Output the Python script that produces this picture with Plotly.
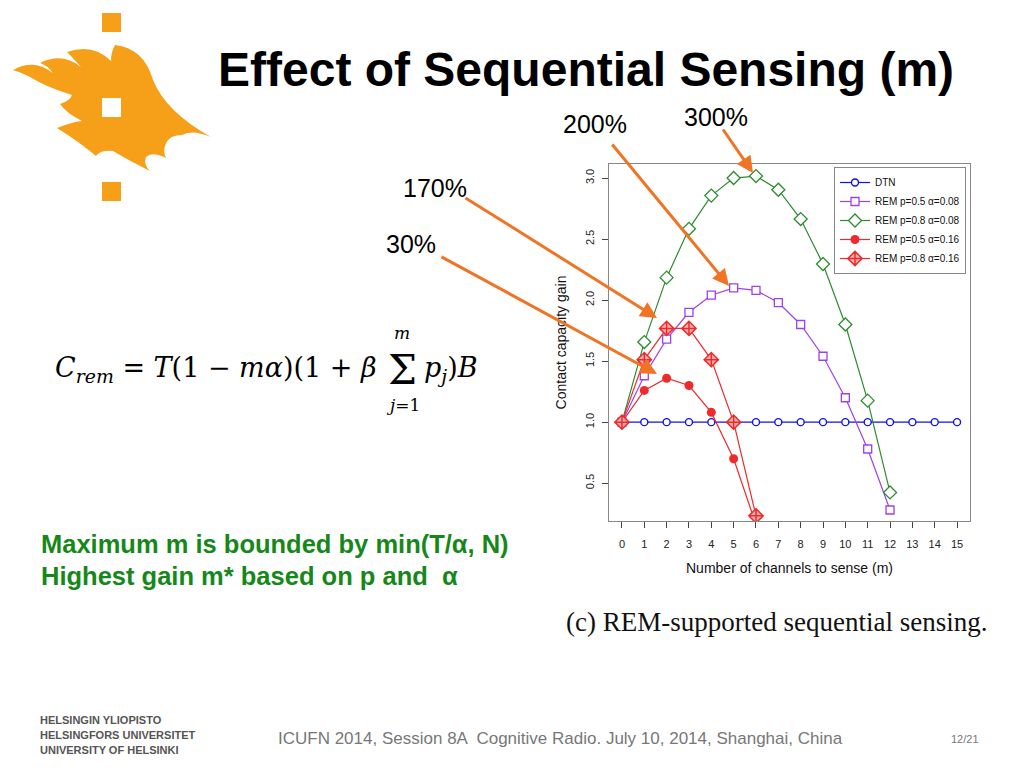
import plotly.graph_objects as go

# ---------------- data ----------------
m_values = list(range(16))
dtn = [1.0] * 16
rem_p05_a008 = [1.0, 1.38, 1.68, 1.90, 2.04, 2.10, 2.08, 1.98, 1.80, 1.54, 1.20, 0.78, 0.28]
rem_p08_a008 = [1.0, 1.656, 2.184, 2.584, 2.856, 3.0, 3.016, 2.904, 2.664, 2.296, 1.80, 1.176, 0.424]
rem_p05_a016 = [1.0, 1.26, 1.36, 1.30, 1.08, 0.70, 0.16]
rem_p08_a016 = [1.0, 1.512, 1.768, 1.768, 1.512, 1.0, 0.232]
series_names = ["DTN", "REM p=0.5 α=0.08", "REM p=0.8 α=0.08",
                "REM p=0.5 α=0.16", "REM p=0.8 α=0.16"]
x_ticks = list(range(16))
y_ticks = [0.5, 1.0, 1.5, 2.0, 2.5, 3.0]
gain_labels = ["30%", "170%", "200%", "300%"]

# page has an 8px body margin: figure is 1008x752 placed at (8, 8)
OFF = 8
W, H = 1024 - 2 * OFF, 768 - 2 * OFF
def X(px):
    return (px - OFF) / W
def Y(py):
    return 1 - (py - OFF) / H

BLUE = "#1010F0"
PURPLE = "#A040E8"
GREEN = "#2E8B2E"
RED = "#EE2A2A"
ORANGE = "#F07424"
LOGO = "#F6A01A"

fig = go.Figure()

fig.add_trace(go.Scatter(
    x=m_values, y=dtn, name=series_names[0], mode="lines+markers",
    line=dict(color=BLUE, width=1.2),
    marker=dict(symbol="circle", size=7, color="white", line=dict(color=BLUE, width=1.4))))
fig.add_trace(go.Scatter(
    x=m_values[:len(rem_p05_a008)], y=rem_p05_a008, name=series_names[1], mode="lines+markers",
    line=dict(color=PURPLE, width=1.2),
    marker=dict(symbol="square", size=8, color="white", line=dict(color=PURPLE, width=1.3))))
fig.add_trace(go.Scatter(
    x=m_values[:len(rem_p08_a008)], y=rem_p08_a008, name=series_names[2], mode="lines+markers",
    line=dict(color=GREEN, width=1.2),
    marker=dict(symbol="diamond", size=10, color="white", line=dict(color=GREEN, width=1.3))))
fig.add_trace(go.Scatter(
    x=m_values[:len(rem_p05_a016)], y=rem_p05_a016, name=series_names[3], mode="lines+markers",
    line=dict(color=RED, width=1.2),
    marker=dict(symbol="circle", size=9, color=RED, line=dict(color=RED, width=0))))
fig.add_trace(go.Scatter(
    x=m_values[:len(rem_p08_a016)], y=rem_p08_a016, name=series_names[4], mode="lines+markers",
    line=dict(color=RED, width=1.2),
    marker=dict(symbol="diamond-cross", size=11, color="#F7B0B0", line=dict(color=RED, width=1.5))))

axis_font = dict(family="Liberation Sans, Arial, sans-serif", size=11, color="#222")

fig.update_layout(
    width=W, height=H, autosize=False,
    margin=dict(l=0, r=0, t=0, b=0),
    paper_bgcolor="white", plot_bgcolor="white",
    font=dict(family="Liberation Sans, Arial, sans-serif", color="#000"),
    xaxis=dict(
        domain=[X(609), X(970)], range=[-0.58, 15.58],
        tickmode="array", tickvals=x_ticks, ticktext=[str(t) for t in x_ticks],
        ticks="outside", ticklen=6, tickcolor="#444", tickfont=axis_font,
        ticklabelstandoff=7,
        showline=True, linecolor="#888", linewidth=1, mirror=True,
        showgrid=False, zeroline=False,
        title=dict(text="Number of channels to sense (m)",
                   font=dict(family="Liberation Sans, Arial, sans-serif", size=14, color="#111"),
                   standoff=13),
    ),
    yaxis=dict(
        domain=[Y(521), Y(164)], range=[0.19, 3.115],
        tickmode="array", tickvals=y_ticks, ticktext=["%.1f" % t for t in y_ticks],
        tickangle=-90,
        ticks="outside", ticklen=6, tickcolor="#444", tickfont=axis_font,
        ticklabelstandoff=4,
        showline=True, linecolor="#888", linewidth=1, mirror=True,
        showgrid=False, zeroline=False,
        title=dict(text="Contact capacity gain",
                   font=dict(family="Liberation Sans, Arial, sans-serif", size=14, color="#111"),
                   standoff=13),
    ),
    legend=dict(
        x=X(966), y=Y(167), xanchor="right", yanchor="top",
        bgcolor="white", bordercolor="#888", borderwidth=1,
        font=dict(family="Liberation Sans, Arial, sans-serif", size=10, color="#111"),
        itemwidth=30, tracegroupgap=0,
    ),
    showlegend=True,
)

# ---------------- logo (flame + squares) ----------------
flame_path_px = [
    ("M", 13, 70),
    ("Q", 34, 58, 53, 73), ("Q", 47, 65, 40, 63),
    ("Q", 62, 52, 81, 67), ("Q", 73, 58, 67, 52),
    ("Q", 93, 43, 111, 61), ("Q", 111, 52, 115, 45),
    ("Q", 144, 48, 153, 80), ("Q", 166, 112, 211, 137),
    ("Q", 192, 129, 182, 135), ("Q", 168, 135, 165, 146),
    ("Q", 163, 152, 166, 158), ("Q", 152, 151, 146, 157),
    ("Q", 143, 164, 150, 171), ("Q", 128, 160, 113, 151),
    ("Q", 100, 150, 96, 156), ("Q", 78, 141, 57, 128),
    ("Q", 72, 122, 82, 121), ("Q", 66, 113, 60, 104),
    ("Q", 70, 101, 72, 95), ("Q", 46, 87, 30, 77),
    ("Q", 20, 72, 13, 70),
]
parts = []
for seg in flame_path_px:
    if seg[0] == "M":
        parts.append("M %.5f %.5f" % (X(seg[1]), Y(seg[2])))
    else:
        parts.append("Q %.5f %.5f %.5f %.5f" % (X(seg[1]), Y(seg[2]), X(seg[3]), Y(seg[4])))
path = " ".join(parts) + " Z"
fig.add_shape(type="path", path=path, xref="paper", yref="paper",
              fillcolor=LOGO, line=dict(width=0), layer="above")
for (x0, y0, col) in [(102, 13, LOGO), (102, 182, LOGO), (102, 98, "white")]:
    fig.add_shape(type="rect", xref="paper", yref="paper",
                  x0=X(x0), x1=X(x0 + 19), y0=Y(y0 + 19), y1=Y(y0),
                  fillcolor=col, line=dict(width=0), layer="above")

# ---------------- texts ----------------
def txt(text, x, y, size, family="Liberation Sans, Arial, sans-serif", color="#000",
        xanchor="left", yanchor="middle"):
    fig.add_annotation(text=text, x=X(x), y=Y(y), xref="paper", yref="paper",
                       showarrow=False, xanchor=xanchor, yanchor=yanchor,
                       font=dict(family=family, size=size, color=color))

txt("<b>Effect of Sequential Sensing (m)</b>", 586, 70, 48, xanchor="center")

# percentage labels
txt(gain_labels[2], 595, 124, 25, xanchor="center")
txt(gain_labels[3], 716, 117, 25, xanchor="center")
txt(gain_labels[1], 435, 188, 25, xanchor="center")
txt(gain_labels[0], 411, 244, 25, xanchor="center")

# arrows: (tail, tip)
arrows = [((722, 128), (753, 173)),
          ((611, 143), (729, 286)),
          ((464, 197), (657, 318)),
          ((440, 256), (657, 374))]
for (tx, ty), (hx, hy) in arrows:
    fig.add_annotation(x=X(hx), y=Y(hy), xref="paper", yref="paper",
                       ax=tx - hx, ay=ty - hy, axref="pixel", ayref="pixel",
                       text="", showarrow=True, arrowhead=2, arrowsize=1.1,
                       arrowwidth=3, arrowcolor=ORANGE, standoff=0)

# formula
serif = "DejaVu Serif, Liberation Serif, serif"
txt("<i>C</i><sub><i>rem</i></sub> = <i>T</i>(1 − <i>mα</i>)(1 + <i>β</i>",
    379, 369, 27, family=serif, xanchor="right")
txt("Σ", 402, 370, 41, family=serif, xanchor="center")
txt("<i>m</i>", 402, 333, 17, family=serif, xanchor="center")
txt("<i>j</i>=1", 403, 405, 17, family=serif, xanchor="center")
txt("<i>p</i><sub><i>j</i></sub>)<i>B</i>", 422, 369, 27, family=serif, xanchor="left")

# green notes
GREEN_TXT = "#16881A"
txt("<b>Maximum m is bounded by min(T/α, N)</b>", 39, 544, 25.5, color=GREEN_TXT)
txt("<b>Highest gain m* based on p and  α</b>", 39, 576, 25.5, color=GREEN_TXT)

# caption
txt("(c) REM-supported sequential sensing.", 776, 622, 27,
    family="Liberation Serif, Times New Roman, serif", color="#111", xanchor="center")

# footer
uni_font = "Liberation Sans, Arial, sans-serif"
txt("<b>HELSINGIN YLIOPISTO</b>", 38, 720, 11, family=uni_font, color="#555")
txt("<b>HELSINGFORS UNIVERSITET</b>", 38, 735, 11, family=uni_font, color="#555")
txt("<b>UNIVERSITY OF HELSINKI</b>", 38, 750, 11, family=uni_font, color="#555")
txt("ICUFN 2014, Session 8A  Cognitive Radio. July 10, 2014, Shanghai, China",
    560, 738, 17, color="#777", xanchor="center")
txt("12/21", 965, 739, 11, color="#777", xanchor="center")

fig.write_html("out.html")
